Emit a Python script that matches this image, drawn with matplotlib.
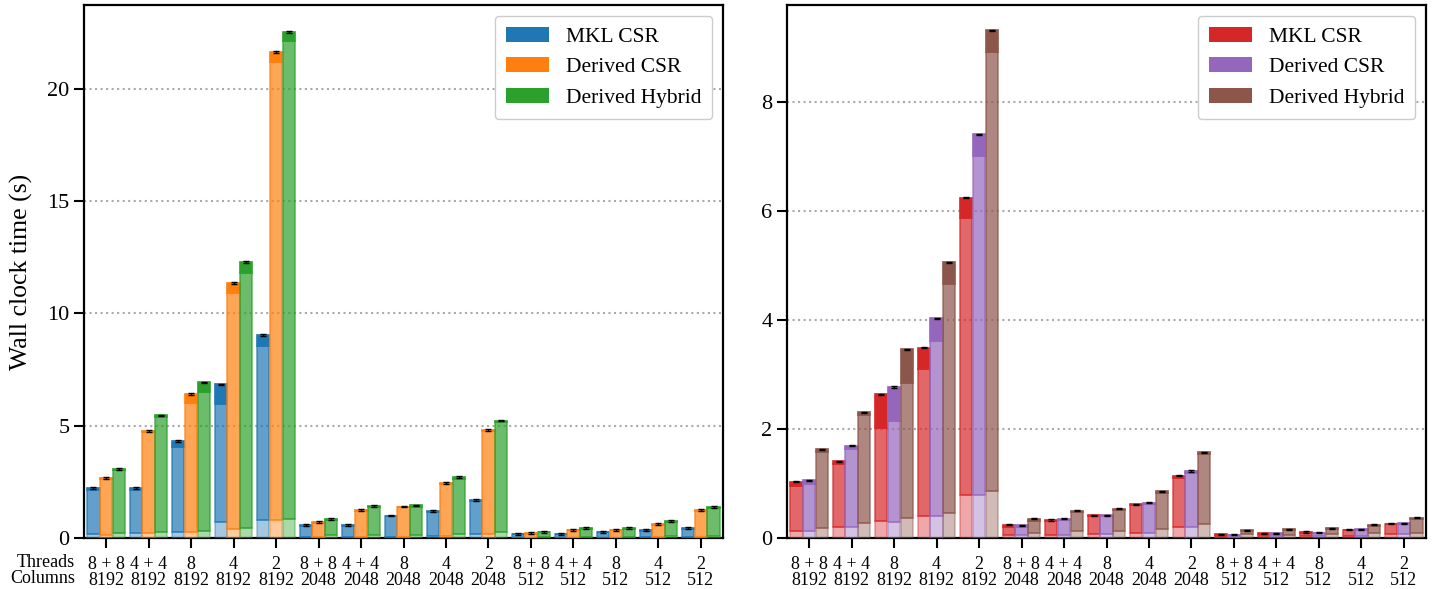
import numpy as np
import matplotlib
matplotlib.use("Agg")
import matplotlib.pyplot as plt
from matplotlib.patches import Patch

plt.rcParams['font.family'] = ['Liberation Serif', 'DejaVu Serif']

threads = ["8 + 8", "4 + 4", "8", "4", "2"] * 3
columns = ["8192"] * 5 + ["2048"] * 5 + ["512"] * 5
labels = ["MKL CSR", "Derived CSR", "Derived Hybrid"]

# left panel: light bottom part, end of middle part, total
left_low = [
    [0.18, 0.22, 0.25, 0.73, 0.79, 0.05, 0.05, 0.06, 0.08, 0.20, 0.02, 0.02, 0.02, 0.03, 0.04],
    [0.13, 0.22, 0.27, 0.40, 0.79, 0.05, 0.05, 0.06, 0.08, 0.20, 0.02, 0.02, 0.02, 0.03, 0.04],
    [0.22, 0.28, 0.31, 0.46, 0.85, 0.12, 0.12, 0.13, 0.16, 0.27, 0.05, 0.05, 0.06, 0.07, 0.10],
]
left_mid = [
    [2.15, 2.16, 4.07, 5.98, 8.55, 0.55, 0.55, 0.97, 1.17, 1.64, 0.16, 0.16, 0.25, 0.32, 0.42],
    [2.63, 4.72, 6.00, 10.9, 21.2, 0.68, 1.22, 1.37, 2.42, 4.75, 0.20, 0.34, 0.34, 0.60, 1.20],
    [3.01, 5.38, 6.52, 11.8, 22.15, 0.78, 1.39, 1.40, 2.64, 5.15, 0.25, 0.42, 0.42, 0.70, 1.32],
]
left_tot = [
    [2.22, 2.22, 4.32, 6.84, 9.04, 0.58, 0.58, 1.00, 1.20, 1.69, 0.18, 0.18, 0.27, 0.34, 0.45],
    [2.69, 4.77, 6.43, 11.36, 21.66, 0.71, 1.25, 1.40, 2.46, 4.81, 0.22, 0.36, 0.36, 0.62, 1.23],
    [3.07, 5.46, 6.93, 12.3, 22.55, 0.83, 1.44, 1.45, 2.70, 5.23, 0.28, 0.45, 0.45, 0.74, 1.37],
]

# right panel
right_low = [
    [0.13, 0.21, 0.31, 0.41, 0.79, 0.05, 0.06, 0.07, 0.10, 0.20, 0.02, 0.03, 0.03, 0.04, 0.07],
    [0.13, 0.20, 0.30, 0.40, 0.79, 0.05, 0.06, 0.07, 0.10, 0.20, 0.02, 0.03, 0.03, 0.04, 0.07],
    [0.19, 0.27, 0.37, 0.46, 0.86, 0.10, 0.12, 0.13, 0.16, 0.26, 0.08, 0.05, 0.08, 0.09, 0.10],
]
right_mid = [
    [0.96, 1.35, 2.01, 3.10, 5.87, 0.21, 0.31, 0.40, 0.60, 1.11, 0.06, 0.08, 0.10, 0.14, 0.25],
    [1.00, 1.63, 2.15, 3.62, 7.01, 0.21, 0.33, 0.40, 0.63, 1.20, 0.05, 0.08, 0.09, 0.15, 0.26],
    [1.57, 2.25, 2.85, 4.66, 8.92, 0.32, 0.47, 0.51, 0.83, 1.54, 0.12, 0.14, 0.16, 0.22, 0.35],
]
right_tot = [
    [1.03, 1.41, 2.64, 3.49, 6.24, 0.24, 0.33, 0.42, 0.62, 1.14, 0.07, 0.09, 0.11, 0.15, 0.26],
    [1.06, 1.69, 2.77, 4.03, 7.41, 0.23, 0.35, 0.42, 0.65, 1.23, 0.06, 0.09, 0.10, 0.16, 0.27],
    [1.63, 2.31, 3.46, 5.06, 9.32, 0.35, 0.50, 0.54, 0.86, 1.57, 0.14, 0.16, 0.18, 0.24, 0.37],
]

left_colors = ["#1f77b4", "#ff7f0e", "#2ca02c"]
right_colors = ["#d62728", "#9467bd", "#8c564b"]


def draw(ax, low, mid, tot, colors, err):
    x = np.arange(len(threads))
    w = 0.29
    for i in range(3):
        lo = np.array(low[i])
        md = np.array(mid[i])
        tt = np.array(tot[i])
        pos = x + (i - 1) * 0.3
        c = colors[i]
        ax.bar(pos, lo, w, color=c, alpha=0.4, edgecolor=c, linewidth=1.2, zorder=3)
        ax.bar(pos, md - lo, w, bottom=lo, color=c, alpha=0.7, edgecolor=c, linewidth=1.2, zorder=3)
        ax.bar(pos, tt - md, w, bottom=md, color=c, alpha=1.0, edgecolor=c, linewidth=1.2, zorder=3)
        ax.errorbar(pos, tt, yerr=err, fmt='none', ecolor='black', elinewidth=1,
                    capsize=2, capthick=1, zorder=4)
    ax.set_xticks(x)
    ax.set_xticklabels([t + "\n" + c for t, c in zip(threads, columns)], fontsize=13,
                       linespacing=0.95)
    ax.set_xlim(-0.52, 14.52)
    ax.yaxis.grid(True, linestyle=':', color='#aaaaaa', linewidth=1.5, zorder=0)
    ax.tick_params(axis='both', direction='out', length=7, width=1.5)
    ax.tick_params(axis='x', pad=6)
    ax.tick_params(axis='y', labelsize=16)
    for s in ax.spines.values():
        s.set_linewidth(1.6)
    handles = [Patch(facecolor=colors[i], label=labels[i]) for i in range(3)]
    ax.legend(handles=handles, loc='upper right', fontsize=15.5, handlelength=2.0,
              edgecolor='#cccccc', fancybox=True, framealpha=1, borderpad=0.5)


fig = plt.figure(figsize=(14.35, 5.89), dpi=100)
ax1 = fig.add_axes([84 / 1435, 51 / 589, 639 / 1435, 533 / 589])
ax2 = fig.add_axes([787 / 1435, 51 / 589, 639 / 1435, 533 / 589])

draw(ax1, left_low, left_mid, left_tot, left_colors, 0.04)
ax1.set_ylim(0, 23.74)
ax1.set_yticks([0, 5, 10, 15, 20])
ax1.set_ylabel("Wall clock time (s)", fontsize=18.5, labelpad=10)
ax1.text(-0.014, -0.030, "Threads\nColumns", transform=ax1.transAxes, ha='right', va='top',
         fontsize=13, linespacing=0.95)

draw(ax2, right_low, right_mid, right_tot, right_colors, 0.01)
ax2.set_ylim(0, 9.78)
ax2.set_yticks([0, 2, 4, 6, 8])

fig.savefig("out.png", dpi=100)
